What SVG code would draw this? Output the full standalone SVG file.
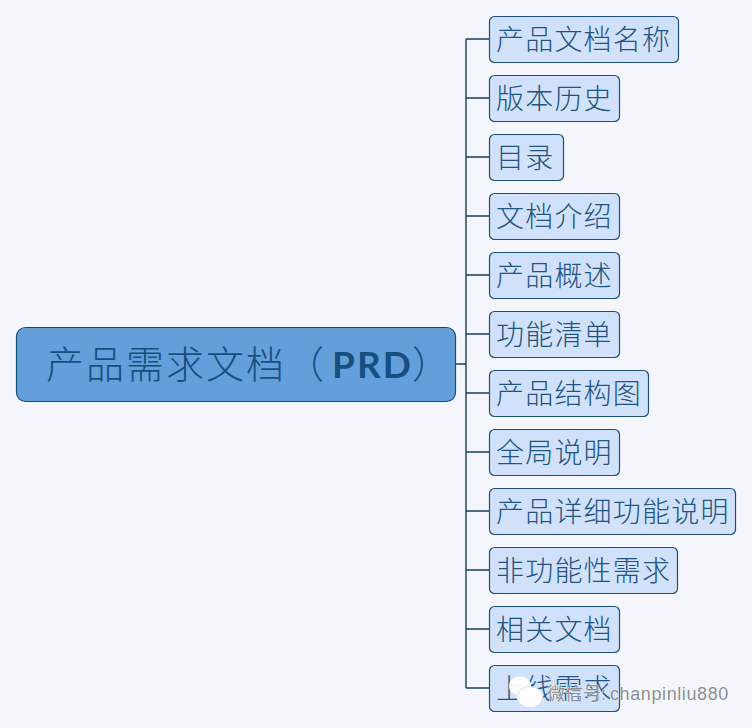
<svg xmlns="http://www.w3.org/2000/svg" width="752" height="728" viewBox="0 0 752 728">
<defs>
<linearGradient id="sub" x1="0" y1="0" x2="0" y2="1"><stop offset="0" stop-color="#cfe0fa"/><stop offset="1" stop-color="#d3e2fb"/></linearGradient>
</defs>
<style>
.n{fill:url(#sub);stroke:#1d4f78;stroke-width:1.2}
.t{font-family:"Noto Sans CJK SC","Liberation Sans",sans-serif;font-size:28px;font-weight:300;fill:#1f5580;letter-spacing:1.2px}
.c{fill:none;stroke:#153f5f;stroke-width:1.4}
.m{font-family:"Noto Sans CJK SC","Liberation Sans",sans-serif;font-size:38px;font-weight:300;fill:#17507f;letter-spacing:2px}
.w{font-family:"Liberation Sans","Noto Sans CJK SC",sans-serif;font-size:18px;fill:#8a8f96;stroke:#fff;stroke-width:.7;paint-order:stroke}
</style>
<rect width="752" height="728" fill="#f4f6fb"/>
<g id="connectors">
<path class="c" d="M456 364H466M466 39V688M466 39H490M466 98H490M466 157H490M466 216H490M466 275H490M466 334H490M466 393H490M466 452H490M466 511H490M466 570H490M466 629H490M466 688H490"/>
</g>
<g id="root">
<rect x="16.500" y="327.500" width="439" height="74" rx="9" fill="#639fda" stroke="#154f78" stroke-width="1.2"/>
<text class="m" x="46" y="378">产品需求文档（<tspan x="332" font-family="Lato,'Liberation Sans',sans-serif" font-weight="700" font-size="37">PRD</tspan><tspan x="412">）</tspan></text>
</g>
<g id="n1"><rect class="n" x="489.500" y="16.500" width="189" height="46" rx="5"/><text class="t" x="496" y="50">产品文档名称</text></g>
<g id="n2"><rect class="n" x="489.500" y="75.500" width="130" height="46" rx="5"/><text class="t" x="496" y="109">版本历史</text></g>
<g id="n3"><rect class="n" x="489.500" y="134.500" width="74" height="46" rx="5"/><text class="t" x="496" y="168">目录</text></g>
<g id="n4"><rect class="n" x="489.500" y="193.500" width="130" height="46" rx="5"/><text class="t" x="496" y="227">文档介绍</text></g>
<g id="n5"><rect class="n" x="489.500" y="252.500" width="130" height="46" rx="5"/><text class="t" x="496" y="286">产品概述</text></g>
<g id="n6"><rect class="n" x="489.500" y="311.500" width="130" height="46" rx="5"/><text class="t" x="496" y="345">功能清单</text></g>
<g id="n7"><rect class="n" x="489.500" y="370.500" width="159" height="46" rx="5"/><text class="t" x="496" y="404">产品结构图</text></g>
<g id="n8"><rect class="n" x="489.500" y="429.500" width="130" height="46" rx="5"/><text class="t" x="496" y="463">全局说明</text></g>
<g id="n9"><rect class="n" x="489.500" y="488.500" width="246" height="46" rx="5"/><text class="t" x="496" y="522">产品详细功能说明</text></g>
<g id="n10"><rect class="n" x="489.500" y="547.500" width="188" height="46" rx="5"/><text class="t" x="496" y="581">非功能性需求</text></g>
<g id="n11"><rect class="n" x="489.500" y="606.500" width="130" height="46" rx="5"/><text class="t" x="496" y="640">相关文档</text></g>
<g id="n12"><rect class="n" x="489.500" y="665.500" width="130" height="46" rx="5"/><text class="t" x="496" y="699">上线需求</text></g>
<g id="watermark">
<ellipse cx="520" cy="686" rx="11" ry="9.500" fill="#fff" fill-opacity=".92"/>
<ellipse cx="530" cy="697" rx="13" ry="10.500" fill="#fff" stroke="#cfd6e2" stroke-width=".8"/>
<text class="w" x="547" y="700">微信号:<tspan x="610" letter-spacing=".6">chanpinliu880</tspan></text>
</g>
</svg>
